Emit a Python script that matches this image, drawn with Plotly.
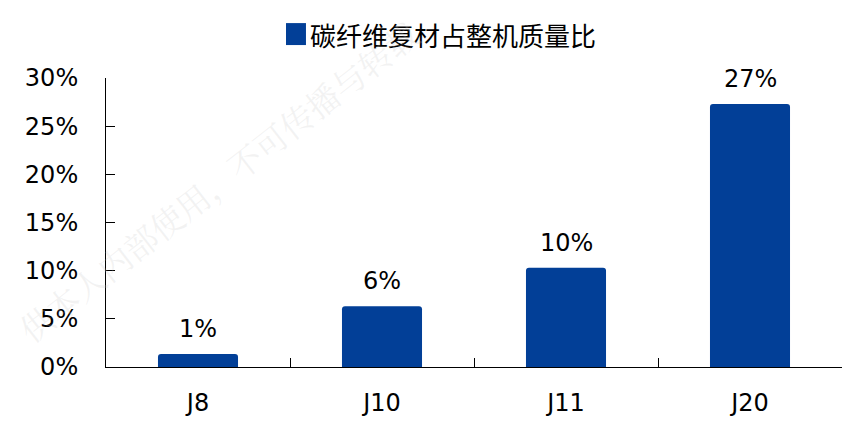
import plotly.graph_objects as go

categories = ["J8", "J10", "J11", "J20"]
values = [1.35, 6.3, 10.3, 27.3]
labels = ["1%", "6%", "10%", "27%"]
series_name = "碳纤维复材占整机质量比"
y_ticks = [0, 5, 10, 15, 20, 25, 30]
y_tick_text = ["0%", "5%", "10%", "15%", "20%", "25%", "30%"]

BAR = "#023F97"
NUM_FONT = dict(family="DejaVu Sans, Verdana, sans-serif", size=24, color="#000000")

fig = go.Figure()
fig.add_trace(go.Bar(
    x=categories, y=values, name=series_name,
    marker=dict(color=BAR, cornerradius=3, line=dict(width=0)),
    width=0.435, showlegend=False,
))

for c, v, t in zip(categories, values, labels):
    fig.add_annotation(x=c, y=v, text=t, showarrow=False, yanchor="bottom",
                       yshift=9, font=NUM_FONT)

# legend (drawn as a square + text)
fig.add_shape(type="rect", xref="paper", yref="paper",
              x0=0.2446, x1=0.2717, y0=1.114, y1=1.190,
              fillcolor=BAR, line=dict(width=0), layer="above")
fig.add_annotation(xref="paper", yref="paper", x=0.2745, y=1.152,
                   xanchor="left", yanchor="middle", showarrow=False,
                   text=series_name,
                   font=dict(family="Noto Sans CJK SC", size=26, color="#000000"))

# faint watermark
fig.add_annotation(xref="paper", yref="paper", x=0.152, y=0.647,
                   xanchor="center", yanchor="middle",
                   showarrow=False, textangle=-38,
                   text="供本人内部使用，不可传播与转载",
                   font=dict(family="Noto Serif CJK SC, Noto Sans CJK SC", size=33,
                             color="rgba(200,200,200,0.22)"))

# page body has an 8px margin: figure is positioned to compensate
fig.update_layout(
    width=850, height=414,
    margin=dict(l=98, r=16, t=70, b=55),
    paper_bgcolor="white", plot_bgcolor="white",
    bargap=0.565,
    showlegend=False,
)
fig.update_xaxes(
    type="category", showline=True, linecolor="#000000", linewidth=1,
    ticks="inside", ticklen=9, tickcolor="#000000", tickson="boundaries",
    showgrid=False, tickfont=NUM_FONT, ticklabelstandoff=14,
    range=[-0.5, 3.5], automargin=False,
)
fig.update_yaxes(
    range=[0, 30], tickvals=y_ticks, ticktext=y_tick_text,
    showline=True, linecolor="#000000", linewidth=1,
    ticks="inside", ticklen=9, tickcolor="#000000",
    showgrid=False, zeroline=False, tickfont=NUM_FONT, ticklabelstandoff=22,
    automargin=False,
)

fig.write_html("out.html")
